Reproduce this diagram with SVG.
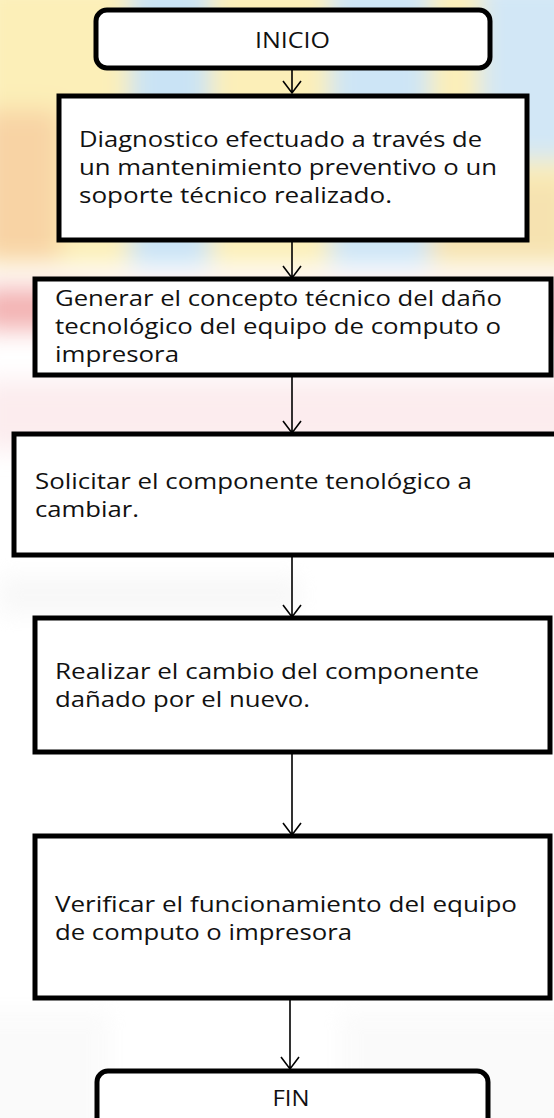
<svg xmlns="http://www.w3.org/2000/svg" width="554" height="1118" viewBox="0 0 554 1118">
<defs>
<style>
.box{fill:#ffffff;stroke:#000000;stroke-width:5}
.term{fill:#ffffff;stroke:#000000;stroke-width:5}
.t{font-family:"Open Sans","Liberation Sans",sans-serif;font-size:22px;fill:#111111}
.c{text-anchor:middle}
.conn{stroke:#000000;stroke-width:1.6;fill:none}
</style>
<filter id="blur" x="-20%" y="-20%" width="140%" height="140%"><feGaussianBlur stdDeviation="12"/></filter>
<filter id="blur2" x="-50%" y="-50%" width="200%" height="200%"><feGaussianBlur stdDeviation="10"/></filter>
</defs>
<rect x="0" y="0" width="554" height="1118" fill="#ffffff"/>
<g id="background" filter="url(#blur)">
<rect x="-20" y="-20" width="600" height="285" fill="#fcefb8"/>
<rect x="130" y="-20" width="80" height="285" fill="#c9e3f5"/>
<rect x="330" y="-20" width="100" height="285" fill="#cde5f6"/>
<rect x="480" y="-20" width="100" height="180" fill="#d2e7f6"/>
<rect x="-20" y="110" width="80" height="150" fill="#f8d3a4"/>
<rect x="430" y="180" width="140" height="80" fill="#f6e2b0"/>
<rect x="-20" y="285" width="600" height="45" fill="#f9d6d6"/>
<rect x="-20" y="290" width="110" height="40" fill="#f3b2b2"/>
<rect x="-20" y="380" width="600" height="70" fill="#fcecee"/>
</g>
<g id="watermark" filter="url(#blur2)" opacity="0.4">
<rect x="0" y="575" width="300" height="40" fill="#eeeeee"/>
<rect x="-30" y="1010" width="140" height="140" fill="#f4f4f4"/>
<rect x="340" y="1010" width="240" height="140" fill="#f4f4f4"/>
</g>
<g id="connectors">
<path class="conn" d="M292 68V93M283 81L292 93L301 81"/>
<path class="conn" d="M292 240V278M283 266L292 278L301 266"/>
<path class="conn" d="M292 375V433M283 421L292 433L301 421"/>
<path class="conn" d="M292 555V617M283 605L292 617L301 605"/>
<path class="conn" d="M292 752V835M283 823L292 835L301 823"/>
<path class="conn" d="M290 998V1069M281 1057L290 1069L299 1057"/>
</g>
<g id="inicio">
<rect class="term" x="96" y="10" width="394" height="58" rx="11"/>
<text class="t c" x="292.5" y="47.5" textLength="75" lengthAdjust="spacingAndGlyphs">INICIO</text>
</g>
<g id="diagnostico">
<rect class="box" x="59" y="96" width="468" height="144"/>
<text class="t" x="79" y="146.5" textLength="403" lengthAdjust="spacingAndGlyphs">Diagnostico efectuado a través de</text>
<text class="t" x="79" y="174.5" textLength="418" lengthAdjust="spacingAndGlyphs">un mantenimiento preventivo o un</text>
<text class="t" x="79" y="202.5" textLength="313" lengthAdjust="spacingAndGlyphs">soporte técnico realizado.</text>
</g>
<g id="generar">
<rect class="box" x="35" y="279" width="516" height="96"/>
<text class="t" x="55" y="306" textLength="447" lengthAdjust="spacingAndGlyphs">Generar el concepto técnico del daño</text>
<text class="t" x="55" y="334" textLength="446" lengthAdjust="spacingAndGlyphs">tecnológico del equipo de computo o</text>
<text class="t" x="55" y="362" textLength="124" lengthAdjust="spacingAndGlyphs">impresora</text>
</g>
<g id="solicitar">
<rect class="box" x="14" y="434" width="550" height="121"/>
<text class="t" x="35" y="489" textLength="437" lengthAdjust="spacingAndGlyphs">Solicitar el componente tenológico a</text>
<text class="t" x="35" y="517" textLength="104" lengthAdjust="spacingAndGlyphs">cambiar.</text>
</g>
<g id="realizar">
<rect class="box" x="35" y="618" width="515" height="134"/>
<text class="t" x="55" y="679" textLength="424" lengthAdjust="spacingAndGlyphs">Realizar el cambio del componente</text>
<text class="t" x="55" y="707" textLength="255" lengthAdjust="spacingAndGlyphs">dañado por el nuevo.</text>
</g>
<g id="verificar">
<rect class="box" x="35" y="836" width="515" height="162"/>
<text class="t" x="55" y="912" textLength="462" lengthAdjust="spacingAndGlyphs">Verificar el funcionamiento del equipo</text>
<text class="t" x="55" y="940" textLength="297" lengthAdjust="spacingAndGlyphs">de computo o impresora</text>
</g>
<g id="fin">
<rect class="term" x="97" y="1071" width="391" height="70" rx="11"/>
<text class="t c" x="291" y="1105.5" textLength="37" lengthAdjust="spacingAndGlyphs">FIN</text>
</g>
</svg>
